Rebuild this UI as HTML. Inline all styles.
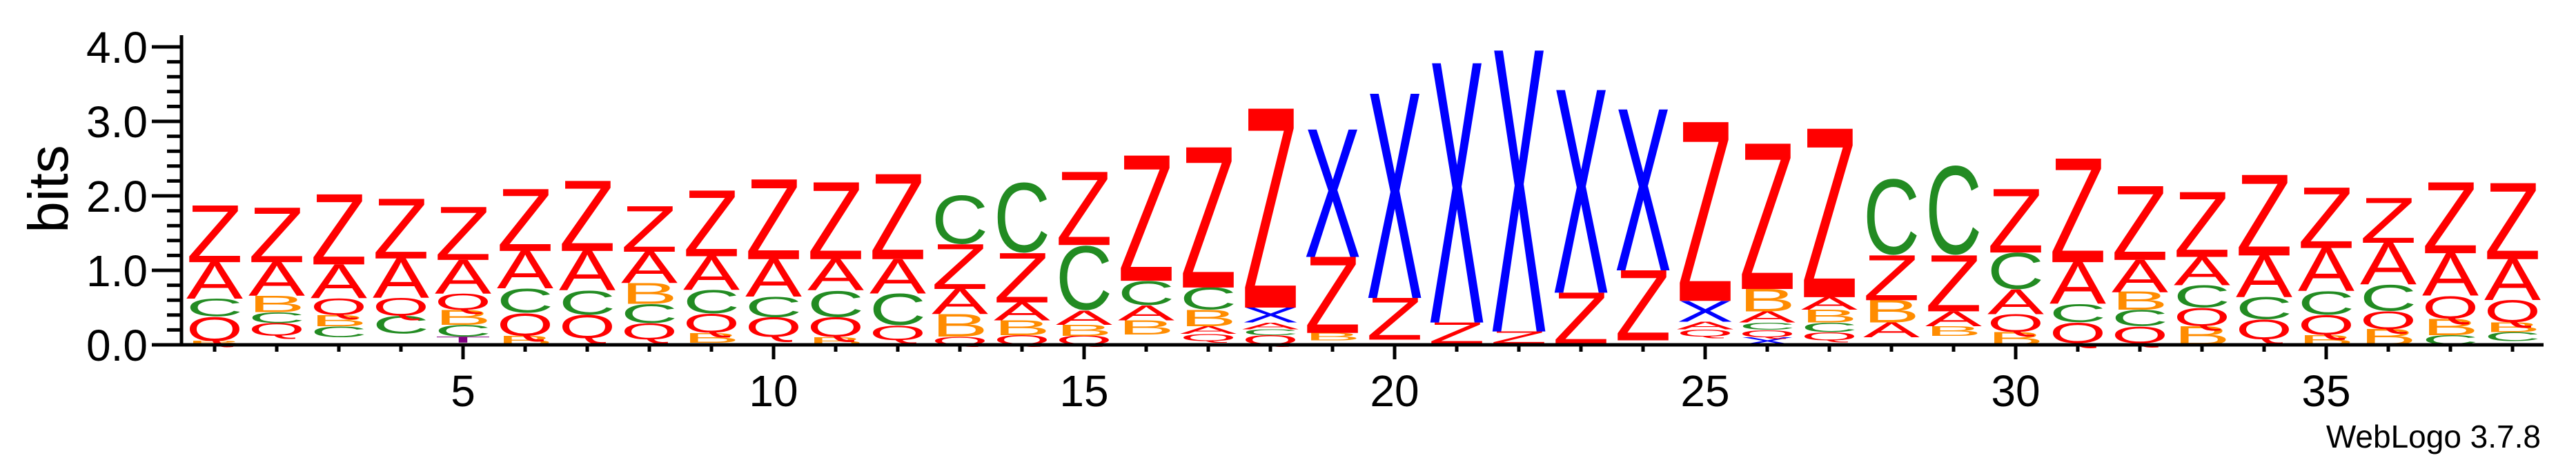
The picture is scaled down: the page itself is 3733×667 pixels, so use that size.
<!DOCTYPE html>
<html><head><meta charset="utf-8"><style>
html,body{margin:0;padding:0;background:#fff;}
svg{display:block;}
text{font-family:"Liberation Sans",Arial,sans-serif;}
</style></head><body>
<svg id="logo" width="3733" height="667" viewBox="0 0 3733 667" xmlns="http://www.w3.org/2000/svg">
<g id="stacks"></g>
<g id="axes"></g>
</svg>
<script>
// positions 1..38, each stack bottom->top: [letter, bits]; "-" is an invisible spacer
const positions = Array.from({length:38},(_, i)=>i+1);
const stacks = [
[["B",.05],["Q",.33],["C",.24],["A",.49],["Z",.76]],
[["-",.12],["Q",.17],["C",.15],["B",.22],["A",.45],["Z",.73]],
[["-",.1],["C",.15],["B",.15],["Q",.23],["A",.45],["Z",.94]],
[["-",.15],["C",.24],["Q",.24],["A",.53],["Z",.8]],
[["-",.03],["T",.08],["C",.16],["B",.2],["Q",.22],["A",.45],["Z",.71]],
[["B",.12],["Q",.31],["C",.33],["A",.5],["Z",.83]],
[["-",.08],["Q",.32],["C",.33],["A",.53],["Z",.94]],
[["-",.07],["Q",.22],["C",.26],["B",.28],["A",.42],["Z",.61]],
[["-",.03],["B",.13],["Q",.26],["C",.32],["A",.45],["Z",.88]],
[["-",.1],["Q",.27],["C",.28],["A",.5],["Z",1.07]],
[["B",.1],["Q",.27],["C",.36],["A",.42],["Z",1.03]],
[["-",.06],["Q",.2],["C",.43],["A",.46],["Z",1.14]],
[["Q",.11],["B",.3],["A",.34],["Z",.6],["C",.67]],
[["Q",.13],["B",.2],["A",.24],["Z",.66],["C",.96]],
[["Q",.12],["B",.15],["A",.19],["C",.88],["Z",.98]],
[["-",.14],["B",.19],["A",.2],["C",.33],["Z",1.68]],
[["-",.05],["Q",.1],["A",.1],["B",.22],["C",.3],["Z",1.88]],
[["Q",.13],["C",.08],["A",.09],["X",.2],["Z",2.67]],
[["-",.06],["B",.1],["Z",1.02],["X",1.71]],
[["-",.07],["Z",.56],["X",2.74]],
[["-",.02],["Z",.28],["X",3.48]],
[["-",.02],["Z",.16],["X",3.77]],
[["Z",.7],["X",2.72]],
[["-",.06],["Z",.94],["X",2.16]],
[["-",.11],["Q",.1],["A",.1],["X",.28],["Z",2.4]],
[["X",.1],["Q",.1],["C",.1],["A",.15],["B",.3],["Z",1.95]],
[["-",.06],["Q",.11],["C",.13],["B",.17],["A",.17],["Z",2.26]],
[["-",.1],["A",.2],["B",.3],["Z",.6],["C",1.04]],
[["-",.12],["B",.13],["A",.2],["Z",.75],["C",1.22]],
[["B",.17],["Q",.24],["A",.33],["C",.5],["Z",.85]],
[["-",.02],["Q",.28],["C",.25],["A",.56],["Z",1.39]],
[["-",.02],["Q",.23],["C",.22],["B",.24],["A",.43],["Z",.99]],
[["B",.25],["Q",.25],["C",.3],["A",.38],["Z",.87]],
[["-",.07],["Q",.27],["C",.3],["A",.56],["Z",1.08]],
[["B",.13],["Q",.27],["C",.32],["A",.58],["Z",.81]],
[["B",.21],["Q",.24],["C",.36],["A",.56],["Z",.6]],
[["C",.13],["B",.22],["Q",.31],["A",.57],["Z",.95]],
[["-",.05],["C",.12],["B",.13],["Q",.3],["A",.55],["Z",1.02]]
];
const yTicks = [0,1,2,3,4];
const yTickLabels = ["0.0","1.0","2.0","3.0","4.0"];
const xTickLabels = [5,10,15,20,25,30,35];

const NS="http://www.w3.org/2000/svg";
const colors={Z:"#ff0000",A:"#ff0000",Q:"#ff0000",C:"#228b22",B:"#ff8c00",X:"#0000ff",T:"#800080"};
const X0=311, DX=90, Y0=500, PXBIT=108, W=82, CAP=0.688;
const xScale = p => X0+(p-1)*DX;
const yScale = b => Y0-b*PXBIT;
function mk(tag, attrs, parent){const e=document.createElementNS(NS,tag);for(const k in attrs)e.setAttribute(k,attrs[k]);parent.appendChild(e);return e;}

const gS=document.getElementById('stacks');
stacks.forEach((st,i)=>{
  const cx=xScale(positions[i]);
  const col=mk('g',{},gS);
  
  
  let acc=0;
  st.forEach(([L,h])=>{
    const yb=yScale(acc), yt=yScale(acc+h); acc+=h;
    if(L==="-")return;
    const hp=yb-yt; if(hp<0.5)return;
    const round=(L==="C"||L==="Q");
    const fs=hp/(round?0.72:CAP);
    const t=mk('text',{x:cx-W/2,y:yb-(round?hp*0.02:0),'font-size':fs.toFixed(2),'font-weight':'normal',fill:colors[L],textLength:W,lengthAdjust:'spacingAndGlyphs'},col);
    
    
    t.textContent=L;
  });
});

const gA=document.getElementById('axes');
const ya=mk('line',{x1:263,y1:51,x2:263,y2:502,stroke:'#000','stroke-width':5},gA);


for(let v=0;v<=4.001;v+=0.2){
  const major=Math.abs(v-Math.round(v))<1e-6;
  const tk=mk('line',{x1:major?220:242,x2:263,y1:yScale(v),y2:yScale(v),stroke:'#000','stroke-width':5},gA);
  
  
}
yTicks.forEach((v,i)=>{
  const t=mk('text',{x:214,y:yScale(v)+23,'font-size':64,'text-anchor':'end',fill:'#000'},gA);
  
  
  t.textContent=yTickLabels[i];
});
const yt=mk('text',{x:0,y:0,'font-size':82,'text-anchor':'middle',fill:'#000',transform:'translate(98,274) rotate(-90)'},gA);


yt.textContent='bits';
const xa=mk('line',{x1:261,y1:500,x2:3686,y2:500,stroke:'#000','stroke-width':5},gA);


positions.forEach(p=>{
  const major=xTickLabels.includes(p);
  const tk=mk('line',{x1:xScale(p),x2:xScale(p),y1:500,y2:major?521:510,stroke:'#000','stroke-width':5},gA);
  
  
});
xTickLabels.forEach(p=>{
  const t=mk('text',{x:xScale(p),y:589,'font-size':64,'text-anchor':'middle',fill:'#000'},gA);
  
  
  t.textContent=p;
});
const wl=mk('text',{x:3682,y:649,'font-size':46,'text-anchor':'end',fill:'#000'},gA);


wl.textContent='WebLogo 3.7.8';
</script>
</body></html>
